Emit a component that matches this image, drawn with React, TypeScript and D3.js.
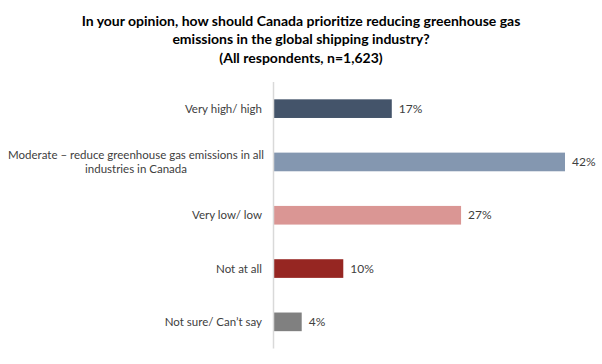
import * as d3 from "d3";

// chart data
const titleLines = [
  "In your opinion, how should Canada prioritize reducing greenhouse gas",
  "emissions in the global shipping industry?",
  "(All respondents, n=1,623)",
];
const categories = [
  "Very high/ high",
  "Moderate – reduce greenhouse gas emissions in all\nindustries in Canada",
  "Very low/ low",
  "Not at all",
  "Not sure/ Can’t say",
];
const values = [17, 42, 27, 10, 4];
const barColors = ["#44546A", "#8497B0", "#DA9694", "#962622", "#808080"];

const App = () => {
  const width = 602;
  const height = 364;
  const margin = { top: 82, left: 274, bottom: 15.5 };

  const x = d3
    .scaleLinear()
    .domain([0, d3.max(values) as number])
    .range([margin.left, 565]);

  const y = d3
    .scaleBand()
    .domain(categories)
    .range([margin.top, height - margin.bottom])
    .paddingInner(0.65)
    .paddingOuter(0.325);

  const font = "Lato, 'Open Sans', sans-serif";

  return (
    <svg
      width={width}
      height={height}
      style={{ position: "absolute", left: 0, top: 0, background: "#fff" }}
    >
      {/* title */}
      <g fontFamily={font} fontWeight="bold" fontSize={14} fill="#000" textAnchor="middle">
        {titleLines.map((t, i) => (
          <text key={i} x={301} y={25.5 + i * 18.8}>
            {t}
          </text>
        ))}
      </g>

      {/* bars */}
      {categories.map((c, i) => (
        <rect
          key={c}
          x={x(0)}
          y={y(c)}
          width={x(values[i]) - x(0)}
          height={y.bandwidth()}
          fill={barColors[i]}
        />
      ))}

      {/* axis line */}
      <line
        x1={x(0) - 0.5}
        x2={x(0) - 0.5}
        y1={y.range()[0]}
        y2={y.range()[1]}
        stroke="#D9D9D9"
        strokeWidth={1.5}
      />

      {/* category labels */}
      <g fontFamily={font} fontSize={11.5} fill="#404040">
        {categories.map((c) => {
          const lines = c.split("\n");
          const cy = (y(c) as number) + y.bandwidth() / 2;
          const lh = 14;
          const y0 = cy - ((lines.length - 1) * lh) / 2 + 4;
          if (lines.length === 1) {
            return (
              <text key={c} x={262} y={y0} textAnchor="end">
                {c}
              </text>
            );
          }
          return (
            <text key={c} x={136} y={y0} textAnchor="middle">
              {lines.map((l, j) => (
                <tspan key={j} x={136} dy={j === 0 ? 0 : lh}>
                  {l}
                </tspan>
              ))}
            </text>
          );
        })}
      </g>

      {/* value labels */}
      <g fontFamily={font} fontSize={12} fill="#404040">
        {categories.map((c, i) => (
          <text
            key={c}
            x={x(values[i]) + 7}
            y={(y(c) as number) + y.bandwidth() / 2 + 4}
          >
            {values[i]}%
          </text>
        ))}
      </g>
    </svg>
  );
};

export default App;
